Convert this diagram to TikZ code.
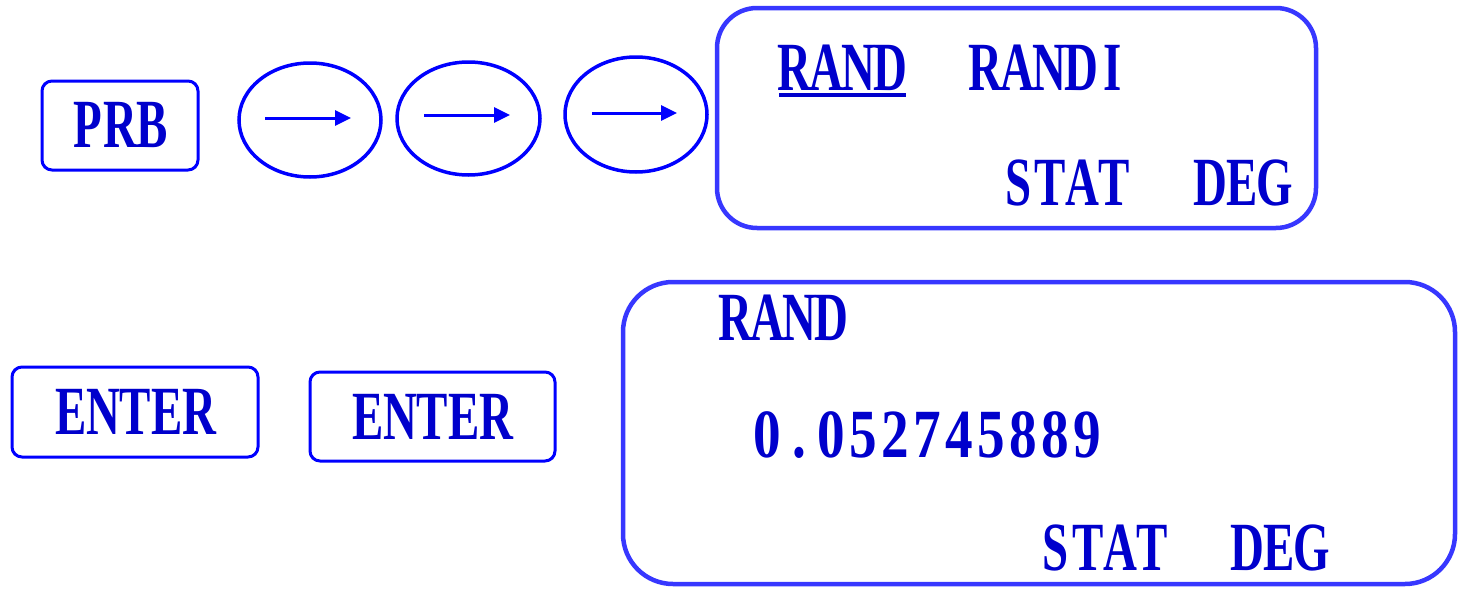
\documentclass[tikz,border=0pt]{standalone}
\usepackage{fontspec}
\usetikzlibrary{shapes.geometric,arrows.meta}
\newfontfamily\lcd[FakeStretch=0.68]{Liberation Serif}
\newfontfamily\lcdnum[FakeStretch=0.8]{Liberation Serif}
\definecolor{keyblue}{RGB}{0,0,255}
\definecolor{scrblue}{RGB}{55,55,255}
\definecolor{txtblue}{RGB}{0,0,204}
% fixed-width character cells, like a calculator display
\newcommand\cells[1]{\cellsi#1\relax}
\def\cellsi#1{\ifx\relax#1\else\makebox[32pt]{#1}\expandafter\cellsi\fi}
\begin{document}
\begin{tikzpicture}[x=1pt,y=-1pt,
  txt/.style={inner sep=0pt,text=txtblue,font=\lcd\bfseries\fontsize{69}{74}\selectfont},
  lbl/.style={txt,anchor=base},
  num/.style={lbl,font=\lcdnum\bfseries\fontsize{69}{74}\selectfont},
  key/.style={draw=keyblue,line width=3pt,rounded corners=10pt,txt},
  oval/.style={draw=keyblue,line width=3.5pt,ellipse,inner sep=0pt},
  screen/.style={draw=scrblue,line width=4.5pt,rounded corners=40pt,inner sep=0pt},
  arr/.style={draw=keyblue,line width=3pt,-{Triangle[length=16pt,width=15pt]}},
  ul/.style={draw=txtblue,line width=4pt}]
\useasboundingbox (0,0) rectangle (1460,589);

% key sequence
\node[key,minimum width=156pt,minimum height=89pt] (prb) at (120,125.5) {\cells{PRB}};
\node[oval,minimum width=142pt,minimum height=114pt] (e1) at (310,120) {};
\node[oval,minimum width=143pt,minimum height=113pt] (e2) at (468.5,118.5) {};
\node[oval,minimum width=142pt,minimum height=115pt] (e3) at (636,114.5) {};
\coordinate (a1s) at (265,118); \coordinate (a1e) at (351,118);
\coordinate (a2s) at (424,115); \coordinate (a2e) at (510,115);
\coordinate (a3s) at (592,113); \coordinate (a3e) at (677,113);
\draw[arr] (a1s) -- (a1e);
\draw[arr] (a2s) -- (a2e);
\draw[arr] (a3s) -- (a3e);

% first display
\node[screen,minimum width=599pt,minimum height=220pt] (s1) at (1016.5,118) {};
\node[lbl] (m1) at (842.5,90) {\cells{RAND}};
\node[lbl] (m2) at (1049,90) {\cells{RANDI}};
\node[lbl] (m3) at (1066.5,205) {\cells{STAT}};
\node[lbl] (m4) at (1242.5,205) {\cells{DEG}};
\coordinate (u1) at (779,95);
\coordinate (u2) at (906,95);
\draw[ul] (u1) -- (u2);

% enter keys
\node[key,minimum width=246pt,minimum height=90pt] (en1) at (135,412) {\cells{ENTER}};
\node[key,minimum width=245pt,minimum height=89pt] (en2) at (432.5,416.5) {\cells{ENTER}};

% second display
\node[screen,minimum width=832pt,minimum height=302pt,rounded corners=50pt] (s2) at (1039,433) {};
\node[lbl] (r1) at (783.5,340) {\cells{RAND}};
\node[num] (r2) at (927.5,457) {\cells{0.052745889}};
\node[lbl] (r3) at (1104,570) {\cells{STAT}};
\node[lbl] (r4) at (1279.5,570) {\cells{DEG}};
\end{tikzpicture}
\end{document}
